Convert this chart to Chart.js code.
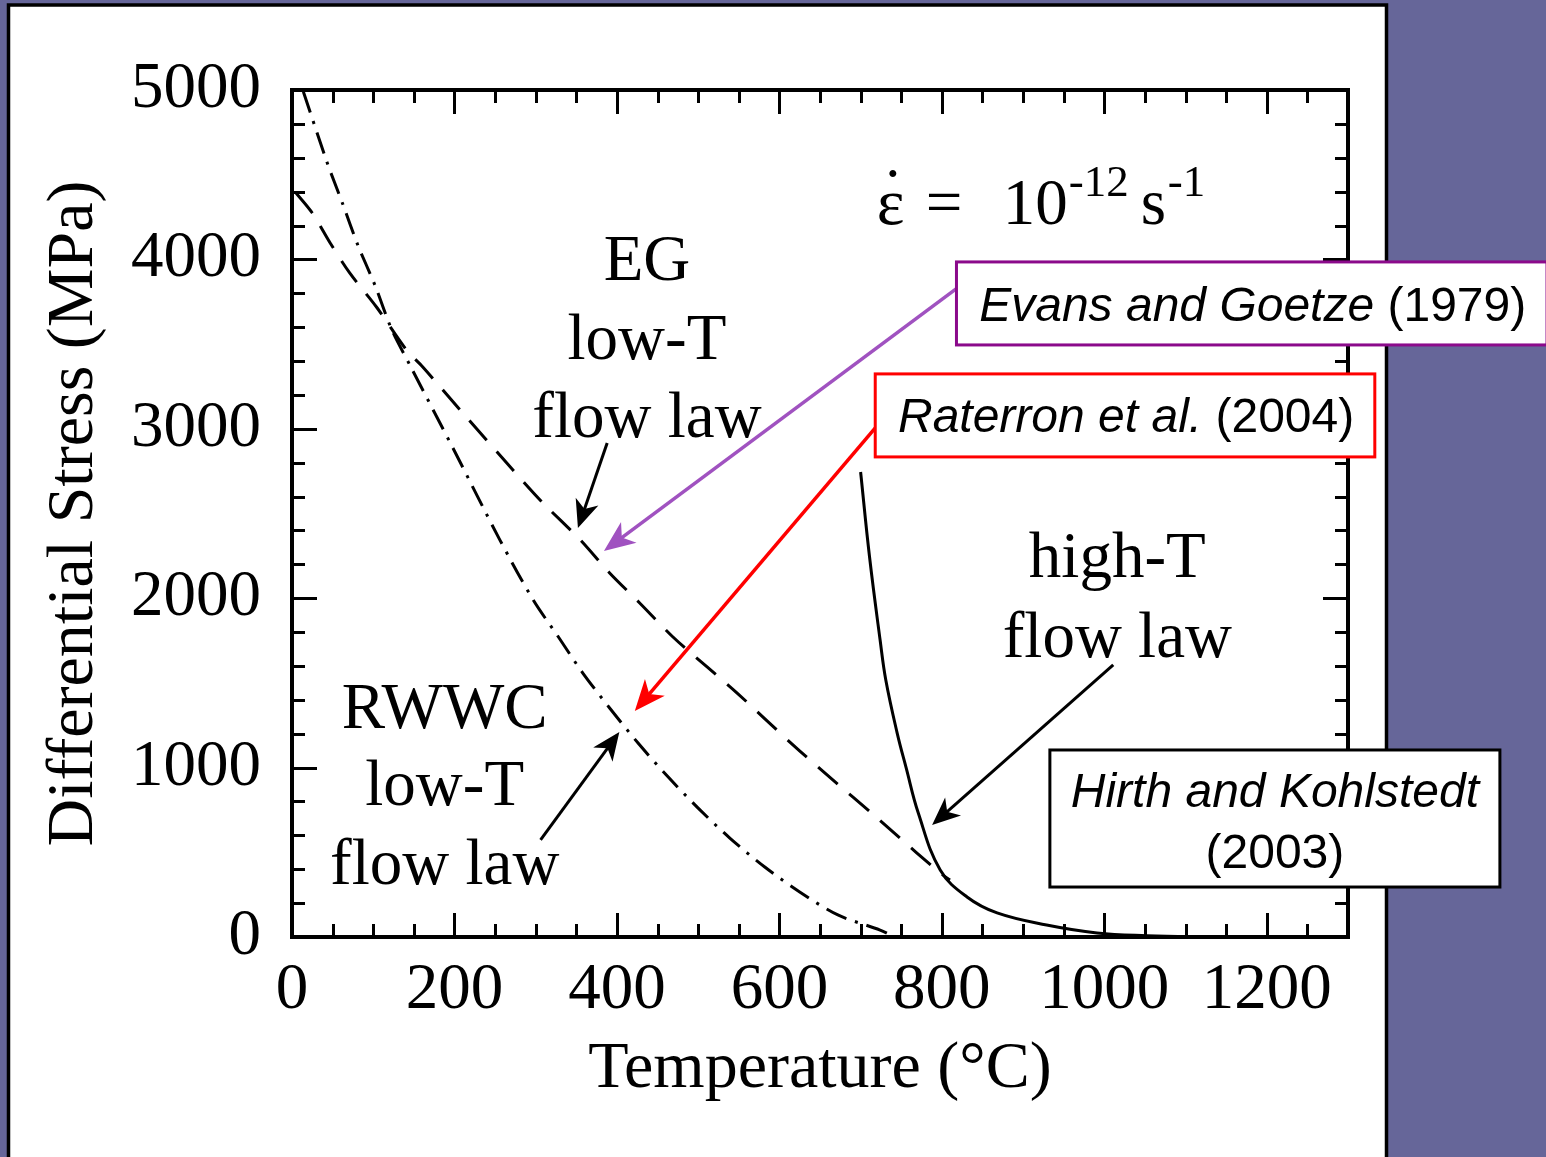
<!DOCTYPE html>
<html><head><meta charset="utf-8">
<script src="https://cdn.jsdelivr.net/npm/chart.js@4/dist/chart.umd.min.js"></script>
<style>html,body{margin:0;padding:0;background:#666699;overflow:hidden}canvas{display:block}</style>
</head><body>
<canvas id="c" width="1546" height="1157"></canvas>
<script>
// ---- data ----
const xTickLabels = [0, 200, 400, 600, 800, 1000, 1200];
const yTickLabels = [0, 1000, 2000, 3000, 4000, 5000];

// Evans & Goetze (1979) low-T flow law (dashed)
const egTemperature = [5, 25, 47, 71, 104, 141, 161, 207, 272, 309, 355, 391, 428, 469, 511, 548, 617, 670, 712, 769, 798, 810];
const egStress      = [4392, 4274, 4097, 3920, 3719, 3465, 3365, 3111, 2757, 2562, 2344, 2149, 1972, 1771, 1594, 1440, 1133, 910, 738, 497, 378, 336];

// Raterron et al. (2004) RWWC low-T flow law (dash-dot)
const rwwcTemperature = [14, 43, 62, 81, 102, 123, 145, 200, 256, 297, 328, 358, 391, 426, 462, 500, 539, 582, 625, 672, 724, 742];
const rwwcStress      = [4990, 4575, 4333, 4085, 3849, 3583, 3377, 2869, 2343, 1989, 1771, 1558, 1352, 1145, 950, 761, 584, 413, 266, 130, 41, 0];

// Hirth & Kohlstedt (2003) high-T flow law (solid)
const hkTemperature = [700, 711, 724, 731, 745, 756, 771, 798, 831, 868, 929, 991, 1052, 1120, 1200];
const hkStress      = [2745, 2243, 1753, 1517, 1204, 1000, 732, 396, 236, 142, 71, 24, 8, 2, 0];

const pts = (xs, ys) => xs.map((x, i) => ({x: x, y: ys[i]}));

// ---- annotations, in data coordinates (temperature, stress) ----
const labelEG   = {t: 437, lines: [['EG', 3878], ['low-T', 3412], ['flow law', 2952]]};
const labelRW   = {t: 188, lines: [['RWWC', 1234], ['low-T', 779], ['flow law', 313]]};
const labelHT   = {t: 1016, lines: [['high-T', 2125], ['flow law', 1653]]};
const arrowsBlack = [[388, 2916, 352, 2414], [306, 573, 403, 1210], [1011, 1606, 788, 661]];
const arrowPurple = [832, 3878, 384, 2279];
const arrowRed    = [739, 3123, 422, 1334];
const boxEvans    = {t0: 818, t1: 1545, s0: 3985, s1: 3495, tx: 846, sy: 3636};
const boxRaterron = {t0: 718, t1: 1333, s0: 3324, s1: 2834, tx: 746, sy: 2981};
const boxHirth    = {t0: 933, t1: 1487, s0: 1104, s1: 295, tc: 1210, sy1: 767, sy2: 407};
const rateEq      = {t: 720, s: 4209};

const SERIF = '"Liberation Serif", "Times New Roman", serif';
const SANS = '"Liberation Sans", Arial, sans-serif';

function arrow(ctx, x1, y1, x2, y2, color, lw, hl, hw) {
  const a = Math.atan2(y2 - y1, x2 - x1), c = Math.cos(a), s = Math.sin(a);
  ctx.save();
  ctx.strokeStyle = color; ctx.fillStyle = color; ctx.lineWidth = lw; ctx.lineCap = 'butt';
  ctx.beginPath(); ctx.moveTo(x1, y1); ctx.lineTo(x2 - hl * 0.6 * c, y2 - hl * 0.6 * s); ctx.stroke();
  const bx = x2 - hl * c, by = y2 - hl * s, nx = -s, ny = c;
  ctx.beginPath();
  ctx.moveTo(x2, y2);
  ctx.lineTo(bx + nx * hw, by + ny * hw);
  ctx.lineTo(x2 - hl * 0.72 * c, y2 - hl * 0.72 * s);
  ctx.lineTo(bx - nx * hw, by - ny * hw);
  ctx.closePath(); ctx.fill();
  ctx.restore();
}

const deco = {
  id: 'deco',
  beforeDraw(chart) {
    const c = chart.ctx;
    c.save();
    c.fillStyle = '#666699'; c.fillRect(0, 0, chart.width, chart.height);
    c.fillStyle = '#ffffff'; c.fillRect(8, 5, 1378, chart.height);
    c.strokeStyle = '#000'; c.lineWidth = 3.5;
    c.beginPath(); c.moveTo(8.5, chart.height + 5); c.lineTo(8.5, 5); c.lineTo(1386.5, 5); c.lineTo(1386.5, chart.height + 5); c.stroke();
    c.restore();
  },
  afterDatasetsDraw(chart) {
    const c = chart.ctx, a = chart.chartArea, xs = chart.scales.x, ys = chart.scales.y;
    c.save();
    c.strokeStyle = '#000'; c.lineWidth = 3;
    c.beginPath();
    for (let v = 50; v < 1300; v += 50) {
      const p = Math.round(xs.getPixelForValue(v)) + 0.5, len = v % 200 === 0 ? 24 : 13;
      c.moveTo(p, a.bottom); c.lineTo(p, a.bottom - len);
      c.moveTo(p, a.top); c.lineTo(p, a.top + len);
    }
    for (let v = 200; v < 5000; v += 200) {
      const p = Math.round(ys.getPixelForValue(v)) + 0.5, len = v % 1000 === 0 ? 25 : 13;
      c.moveTo(a.left, p); c.lineTo(a.left + len, p);
      c.moveTo(a.right, p); c.lineTo(a.right - len, p);
    }
    c.stroke();
    c.lineWidth = 4;
    c.strokeRect(a.left, a.top, a.right - a.left, a.bottom - a.top);
    c.restore();
  },
  afterDraw(chart) {
    const c = chart.ctx, xs = chart.scales.x, ys = chart.scales.y;
    const X = t => xs.getPixelForValue(t), Y = s => ys.getPixelForValue(s);
    c.save();
    // in-plot serif labels
    c.fillStyle = '#000'; c.font = '65px ' + SERIF; c.textAlign = 'center'; c.textBaseline = 'alphabetic';
    [labelEG, labelRW, labelHT].forEach(l => l.lines.forEach(([txt, s]) => c.fillText(txt, X(l.t), Y(s))));
    // strain-rate expression
    let x0 = X(rateEq.t), b = Y(rateEq.s);
    c.textAlign = 'left';
    c.font = '66px ' + SERIF;
    c.fillText('ε', x0, b);
    const ew = c.measureText('ε').width;
    const m = c.measureText('˙');
    const dotCx = x0 + ew / 2 + 2, dotCy = b - 50;
    const dx = dotCx - (m.actualBoundingBoxRight - m.actualBoundingBoxLeft) / 2;
    const dyb = dotCy + (m.actualBoundingBoxAscent - m.actualBoundingBoxDescent) / 2;
    c.fillText('˙', dx, dyb);
    c.font = '65px ' + SERIF;
    c.fillText('=', x0 + 49, b);
    c.fillText('10', x0 + 126, b);
    c.font = '45px ' + SERIF;
    c.fillText('-12', x0 + 192, b - 28);
    c.font = '65px ' + SERIF;
    c.fillText('s', x0 + 264, b);
    c.font = '45px ' + SERIF;
    c.fillText('-1', x0 + 291, b - 28);
    // black arrows
    arrowsBlack.forEach(([t1, s1, t2, s2]) => arrow(c, X(t1), Y(s1), X(t2), Y(s2), '#000', 3, 28, 12));
    arrow(c, X(arrowPurple[0]), Y(arrowPurple[1]), X(arrowPurple[2]), Y(arrowPurple[3]), '#a052c0', 3.5, 31, 13);
    arrow(c, X(arrowRed[0]), Y(arrowRed[1]), X(arrowRed[2]), Y(arrowRed[3]), '#ff0000', 3.5, 31, 13);
    // boxes
    function box(bx, color) {
      const l = X(bx.t0), r = X(bx.t1), t = Y(bx.s0), btm = Y(bx.s1);
      c.fillStyle = '#fff'; c.fillRect(l, t, r - l, btm - t);
      c.strokeStyle = color; c.lineWidth = 3; c.strokeRect(l, t, r - l, btm - t);
    }
    box(boxEvans, '#8b0a8b');
    box(boxRaterron, '#ff0000');
    box(boxHirth, '#000000');
    c.fillStyle = '#000'; c.textAlign = 'left';
    function mixed(it, nm, x, y) {
      c.font = 'italic 48px ' + SANS; c.fillText(it, x, y);
      const w = c.measureText(it).width;
      c.font = '48px ' + SANS; c.fillText(nm, x + w, y);
    }
    mixed('Evans and Goetze', ' (1979)', X(boxEvans.tx), Y(boxEvans.sy));
    mixed('Raterron et al.', ' (2004)', X(boxRaterron.tx), Y(boxRaterron.sy));
    c.textAlign = 'center';
    c.font = 'italic 48px ' + SANS; c.fillText('Hirth and Kohlstedt', X(boxHirth.tc), Y(boxHirth.sy1));
    c.font = '48px ' + SANS; c.fillText('(2003)', X(boxHirth.tc), Y(boxHirth.sy2));
    c.restore();
  }
};

new Chart(document.getElementById('c'), {
  type: 'scatter',
  data: {
    datasets: [
      {label: 'Evans and Goetze (1979)', data: pts(egTemperature, egStress), showLine: true, borderColor: '#000', borderWidth: 3, borderDash: [26, 15], pointRadius: 0, tension: 0.3, fill: false},
      {label: 'Raterron et al. (2004)', data: pts(rwwcTemperature, rwwcStress), showLine: true, borderColor: '#000', borderWidth: 3, borderDash: [22, 9, 3, 9], pointRadius: 0, tension: 0.3, fill: false},
      {label: 'Hirth and Kohlstedt (2003)', data: pts(hkTemperature, hkStress), showLine: true, borderColor: '#000', borderWidth: 3, pointRadius: 0, tension: 0.4, fill: false}
    ]
  },
  options: {
    responsive: false,
    animation: false,
    devicePixelRatio: 1,
    layout: {padding: {left: 12, right: 198, top: 90, bottom: 0}},
    plugins: {legend: {display: false}, tooltip: {enabled: false}},
    scales: {
      x: {
        type: 'linear', min: 0, max: 1300,
        grid: {display: false}, border: {display: false},
        ticks: {stepSize: 200, includeBounds: false, color: '#000', padding: 7, maxRotation: 0, autoSkip: false,
                font: {family: SERIF, size: 65}, callback: v => xTickLabels.includes(v) ? String(v) : ''},
        title: {display: true, text: 'Temperature (°C)', color: '#000', font: {family: SERIF, size: 66}, padding: {top: 0, bottom: 48}},
        afterFit: s => { s.height = 220; }
      },
      y: {
        type: 'linear', min: 0, max: 5000,
        grid: {display: false}, border: {display: false},
        ticks: {stepSize: 1000, color: '#000', padding: 23, font: {family: SERIF, size: 65},
                callback: v => yTickLabels.includes(v) ? String(v) : ''},
        title: {display: true, text: 'Differential Stress (MPa)', color: '#000', font: {family: SERIF, size: 66}, padding: {top: 23, bottom: 0}},
        afterFit: s => { s.width = 280; }
      }
    }
  },
  plugins: [deco]
});
</script>
</body></html>
